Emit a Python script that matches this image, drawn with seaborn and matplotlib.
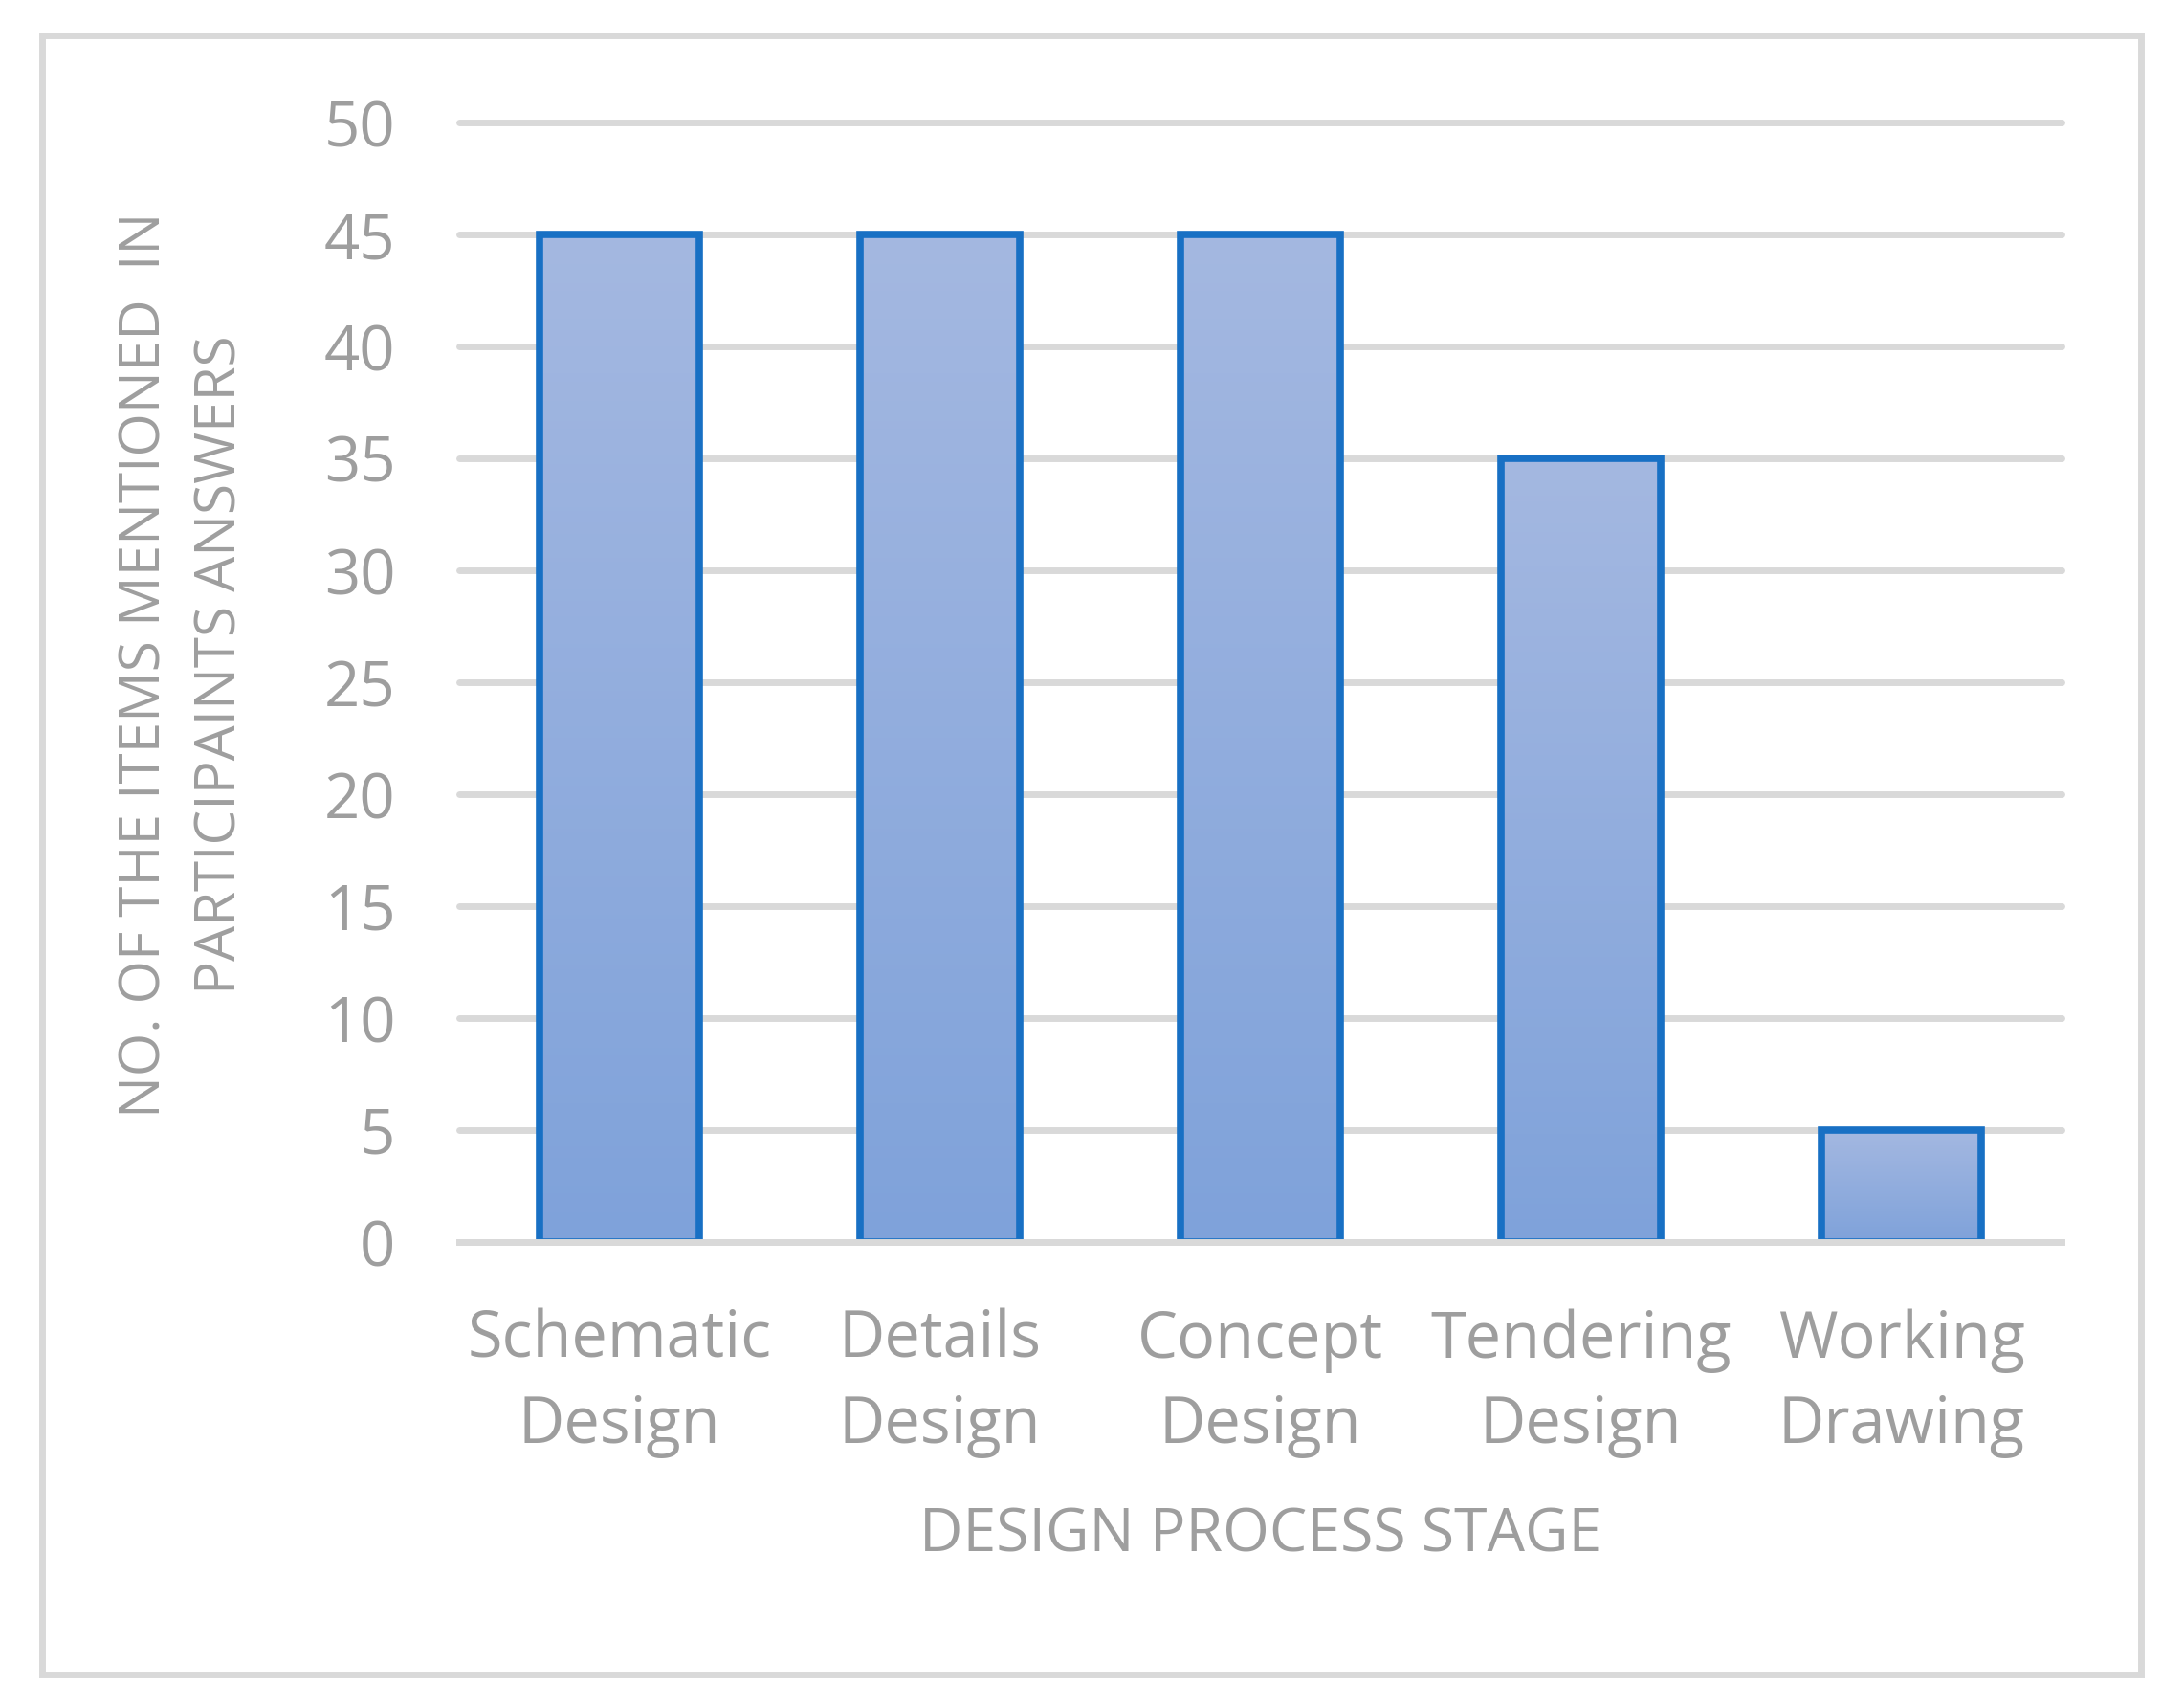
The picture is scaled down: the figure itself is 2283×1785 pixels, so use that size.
import numpy as np
import pandas as pd
import matplotlib
matplotlib.use('Agg')
import matplotlib.pyplot as plt
import seaborn as sns
from matplotlib.colors import LinearSegmentedColormap
from matplotlib.patches import Rectangle

stages = ['Schematic\nDesign', 'Details\nDesign', 'Concept\nDesign',
          'Tendering\nDesign', 'Working\nDrawing']
counts = [45, 45, 45, 35, 5]
y_ticks = list(range(0, 55, 5))

TEXT_GREY = '#9E9E9E'
GRID_GREY = '#D9D9D9'
EDGE_BLUE = '#1870C4'
TOP_BLUE = '#A4B8E1'
BOTTOM_BLUE = '#7FA2DA'

sns.set_theme(style='white')
plt.rcParams['font.family'] = ['Open Sans', 'DejaVu Sans']

df = pd.DataFrame({'stage': stages, 'count': counts})

fig = plt.figure(figsize=(22.83, 17.85), dpi=100)
ax = fig.add_axes([480 / 2283, 1 - 1298 / 1785, (2155 - 480) / 2283, (1298 - 128) / 1785])

sns.barplot(data=df, x='stage', y='count', width=0.5, color=TOP_BLUE,
            edgecolor=EDGE_BLUE, linewidth=5.5, ax=ax, zorder=2)

# vertical gradient inside each bar
cmap = LinearSegmentedColormap.from_list('bar_grad', [BOTTOM_BLUE, TOP_BLUE])
grad = np.linspace(1, 0, 256).reshape(-1, 1)
for p in ax.patches:
    x0, y0 = p.get_x(), p.get_y()
    w, h = p.get_width(), p.get_height()
    im = ax.imshow(grad, extent=[x0, x0 + w, y0, y0 + h], aspect='auto',
                   cmap=cmap, vmin=0, vmax=1, zorder=1.9, interpolation='bilinear')
    im.set_clip_path(p)
    p.set_facecolor('none')

ax.set_xlim(-0.5, len(stages) - 0.5)
ax.set_ylim(0, 50)
ax.set_yticks(y_ticks)
ax.yaxis.grid(True, color=GRID_GREY, linewidth=5)
ax.set_axisbelow(True)
for gl in ax.get_ygridlines():
    gl.set_clip_on(False)

for s in ['top', 'right', 'left']:
    ax.spines[s].set_visible(False)
ax.spines['bottom'].set_color(GRID_GREY)
ax.spines['bottom'].set_linewidth(5)
ax.spines['bottom'].set_zorder(3)

ax.tick_params(axis='y', length=0, pad=48, labelsize=47, labelcolor=TEXT_GREY)
ax.tick_params(axis='x', length=0, pad=50, labelsize=48, labelcolor=TEXT_GREY)
for lbl in ax.get_xticklabels():
    lbl.set_linespacing(1.42)

ax.set_xlabel('DESIGN PROCESS STAGE', fontsize=45, color=TEXT_GREY, labelpad=36)
ax.set_ylabel('')
fig.text(192 / 2283, 1 - 695 / 1785,
         'NO. OF THE ITEMS MENTIONED  IN\nPARTICIPAINTS ANSWERS',
         rotation=90, ha='center', va='center', multialignment='center',
         fontsize=42, color=TEXT_GREY, linespacing=1.45)

# outer chart frame
fig.patches.append(Rectangle((43.5 / 2283, 1 - 1749.5 / 1785), (2237.5 - 43.5) / 2283,
                             (1749.5 - 37.5) / 1785, transform=fig.transFigure,
                             fill=False, edgecolor=GRID_GREY, linewidth=5))

fig.savefig('out.png', dpi=100, facecolor='white')
plt.close(fig)
